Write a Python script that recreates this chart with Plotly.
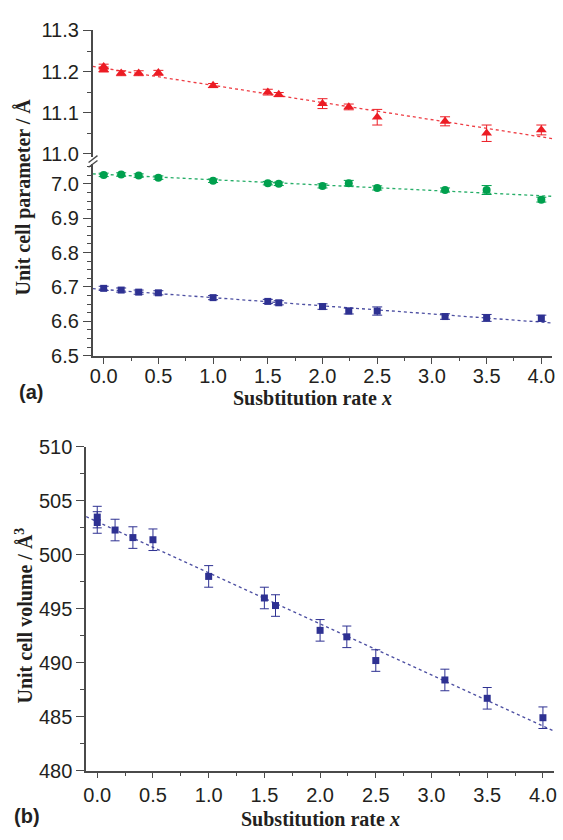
import numpy as np
import plotly.graph_objects as go

# ---- data -------------------------------------------------------------
# lattice parameter a (upper, broken-axis segment)
x_a = [0.0, 0.0, 0.16, 0.32, 0.5, 1.0, 1.5, 1.6, 2.0, 2.24, 2.5, 3.12, 3.5, 4.0]
a_val = [11.212, 11.205, 11.196, 11.196, 11.197, 11.166, 11.150, 11.144,
         11.122, 11.114, 11.089, 11.079, 11.050, 11.058]
a_err = [0.006, 0.006, 0.006, 0.006, 0.006, 0.005, 0.007, 0.005,
         0.012, 0.007, 0.019, 0.011, 0.020, 0.012]

# lattice parameter b
x_bc = [0.0, 0.16, 0.32, 0.5, 1.0, 1.5, 1.6, 2.0, 2.24, 2.5, 3.12, 3.5, 4.0]
b_val = [7.026, 7.027, 7.024, 7.018, 7.009, 7.002, 7.000,
         6.994, 7.002, 6.988, 6.982, 6.982, 6.954]
b_err = [0.005, 0.005, 0.005, 0.005, 0.005, 0.005, 0.005,
         0.006, 0.008, 0.006, 0.006, 0.013, 0.007]

# lattice parameter c
c_val = [6.696, 6.691, 6.685, 6.683, 6.669, 6.658, 6.654,
         6.643, 6.630, 6.630, 6.614, 6.610, 6.609]
c_err = [0.006, 0.006, 0.006, 0.006, 0.006, 0.006, 0.006,
         0.008, 0.0085, 0.012, 0.008, 0.010, 0.009]

# unit cell volume
x_v = [0.0, 0.0, 0.16, 0.32, 0.5, 1.0, 1.5, 1.6, 2.0, 2.24, 2.5, 3.12, 3.5, 4.0]
v_val = [503.5, 503.0, 502.3, 501.6, 501.4, 498.0, 496.0, 495.3,
         493.0, 492.4, 490.2, 488.4, 486.7, 484.9]
v_err = [1.0] * len(x_v)

x_ticks = [0.0, 0.5, 1.0, 1.5, 2.0, 2.5, 3.0, 3.5, 4.0]
x_ticktext = ["0.0", "0.5", "1.0", "1.5", "2.0", "2.5", "3.0", "3.5", "4.0"]

# ---- colours / fonts --------------------------------------------------
RED = "#ec1c24"
GREEN = "#00a04e"
BLUE = "#2e3192"
AXIS = "#4a4a4a"
TXT = "#231f20"
SANS = "Liberation Sans, Arial, sans-serif"
SERIF = "Liberation Serif, Times New Roman, serif"

W, H = 563, 840


def px_x(p):
    return p / W


def px_y(p):
    return 1 - p / H


def fit_line(x, y):
    k, b = np.polyfit(x, y, 1)
    xs = np.array([-0.1, 4.1])
    return xs, b + k * xs


fig = go.Figure()


def add_series(x, y, err, color, symbol, size, xa, ya, capw=5):
    fx, fy = fit_line(x, y)
    fig.add_trace(go.Scatter(
        x=fx, y=fy, mode="lines", xaxis=xa, yaxis=ya,
        line=dict(color=color, width=1.3, dash="dot"),
        opacity=0.85, showlegend=False, hoverinfo="skip"))
    fig.add_trace(go.Scatter(
        x=x, y=y, mode="markers", xaxis=xa, yaxis=ya,
        marker=dict(symbol=symbol, size=size, color=color,
                    line=dict(width=0)),
        error_y=dict(type="data", array=err, visible=True,
                     color=color, thickness=1, width=capw),
        showlegend=False, cliponaxis=False))


add_series(x_a, a_val, a_err, RED, "triangle-up", 9.5, "x2", "y2")
add_series(x_bc, b_val, b_err, GREEN, "circle", 8, "x", "y")
add_series(x_bc, c_val, c_err, BLUE, "square", 7, "x", "y")
add_series(x_v, v_val, v_err, BLUE, "square", 7, "x3", "y3", capw=4.5)

tickfont = dict(family=SANS, size=20, color=TXT)

common_x = dict(
    range=[-0.1, 4.1], tickvals=x_ticks, ticktext=x_ticktext,
    ticks="outside", ticklen=6, tickwidth=1.2, tickcolor=AXIS,
    minor=dict(dtick=0.25, tick0=0, ticks="outside", ticklen=3.5,
               tickwidth=1.2, tickcolor=AXIS),
    showline=True, linecolor=AXIS, linewidth=1.6,
    showgrid=False, zeroline=False, tickfont=tickfont,
)
common_y = dict(
    ticks="outside", ticklen=8, tickwidth=1.2, tickcolor=AXIS,
    showline=True, linecolor=AXIS, linewidth=1.6,
    showgrid=False, zeroline=False, tickfont=tickfont,
)

top_dom = [px_x(90.7), px_x(555.2)]
bot_dom = [px_x(84.0), px_x(557.0)]

fig.update_layout(
    width=W, height=H,
    margin=dict(l=0, r=0, t=0, b=0),
    paper_bgcolor="white", plot_bgcolor="rgba(0,0,0,0)",
    xaxis=dict(domain=top_dom, anchor="y", ticklabelstandoff=-5, **common_x),
    yaxis=dict(domain=[px_y(354), px_y(157)], anchor="x",
               range=[6.5, 7.058], dtick=0.1, tick0=6.5, tickformat=".1f",
               minor=dict(dtick=0.025, tick0=6.5, ticks="outside", ticklen=4,
                          tickwidth=1.2, tickcolor=AXIS),
               **common_y),
    xaxis2=dict(domain=top_dom, anchor="y2", matches="x", visible=False,
                range=[-0.1, 4.1]),
    yaxis2=dict(domain=[px_y(150), px_y(20)], anchor="x2",
                range=[10.992, 11.3], dtick=0.1, tick0=11.0, tickformat=".1f",
                minor=dict(dtick=0.05, tick0=11.0, ticks="outside", ticklen=4,
                           tickwidth=1.2, tickcolor=AXIS),
                **common_y),
    xaxis3=dict(domain=bot_dom, anchor="y3", **common_x),
    yaxis3=dict(domain=[px_y(780), px_y(447.7)], anchor="x3",
                range=[480, 510], dtick=5, tick0=480,
                minor=dict(dtick=2.5, tick0=480, ticks="outside", ticklen=4,
                           tickwidth=1.2, tickcolor=AXIS),
                **common_y),
)

# axis break marks on the left axis of panel (a)
for y0 in (155.5, 160.5):
    fig.add_shape(type="line", xref="paper", yref="paper",
                  x0=px_x(86.5), y0=px_y(y0), x1=px_x(95.5), y1=px_y(y0 - 7),
                  line=dict(color=AXIS, width=1.3))

ann = []


def text(x, y, s, font, angle=0):
    ann.append(dict(x=px_x(x), y=px_y(y), xref="paper", yref="paper",
                    text=s, showarrow=False, textangle=angle, font=font,
                    xanchor="center", yanchor="middle"))


title_font = dict(family=SERIF, size=20, color=TXT)
label_font = dict(family=SANS, size=20, color=TXT)

text(21.7, 191, "<b>Unit cell parameter / Å</b>", title_font, -90)
text(313, 397, "<b>Susbtitution rate <i>x</i></b>", title_font)
text(28.5, 391.5, "<b>(a)</b>", label_font)

text(21, 621, "<b>Unit cell volume / Å<sup>3</sup></b>", title_font, -90)
text(321, 830, "<b>Substitution rate <i>x</i></b>", title_font)
text(24, 826.5, "<b>(b)</b>", label_font)

fig.update_layout(annotations=ann)

fig.write_html("out.html")
